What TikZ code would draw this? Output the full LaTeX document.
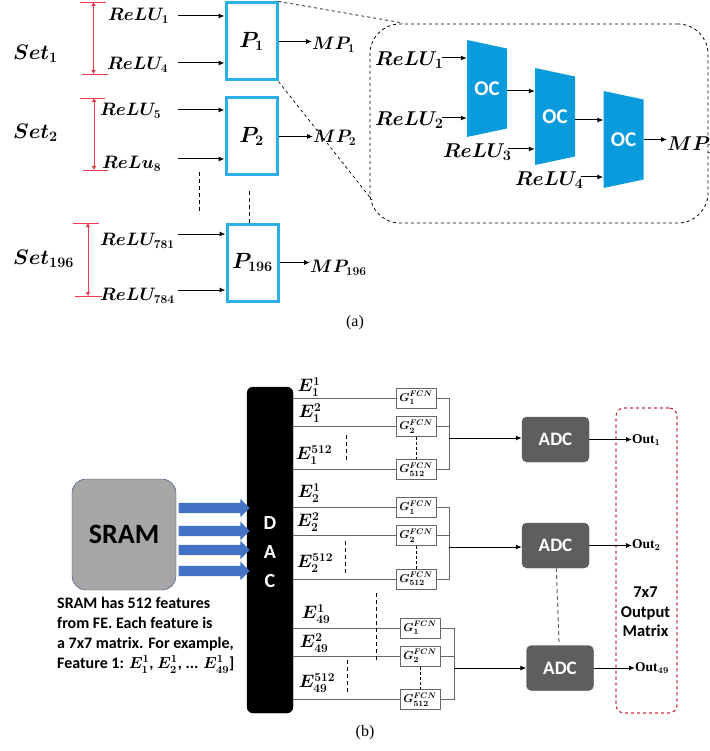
\documentclass[tikz,border=0pt]{standalone}
\usepackage{amsmath,amssymb}
\usepackage{fontspec}
\setmainfont{Liberation Serif}
\newfontfamily\calfont{Carlito}
\DeclareFontShape{OML}{cmm}{b}{it}{<->cmmib10}{}
\usetikzlibrary{arrows.meta,positioning,shapes.arrows}
\definecolor{pcyan}{HTML}{2AB0E6}
\definecolor{ocblue}{HTML}{0A9BDC}
\definecolor{blockblue}{HTML}{4472C4}
\definecolor{sramgray}{HTML}{A6A6A6}
\definecolor{adcgray}{HTML}{5F5D5D}
\definecolor{wiregray}{HTML}{666666}
\definecolor{setred}{HTML}{EE3A4C}
\begin{document}
\begin{tikzpicture}[
  x=1pt, y=-1pt,
  pbox/.style={rectangle, draw=pcyan, fill=white, line width=3pt, inner sep=0pt,
               minimum width=51pt, minimum height=77pt,
               font=\fontsize{22}{24}\selectfont\mathversion{bold}},
  ocbox/.style={rectangle, inner sep=0pt, minimum width=40pt, minimum height=97pt, text=white,
                font=\calfont\bfseries\fontsize{21}{24}\selectfont,
                path picture={\fill[ocblue] (path picture bounding box.north west)
                  -- ([yshift=-8.5pt]path picture bounding box.north east)
                  -- ([yshift=8.5pt]path picture bounding box.south east)
                  -- (path picture bounding box.south west) -- cycle;}},
  mlab/.style={inner sep=0pt, anchor=west, font=\fontsize{18}{20}\selectfont\mathversion{bold}},
  inlab/.style={inner sep=0pt, anchor=west, font=\fontsize{20}{22}\selectfont\mathversion{bold}},
  elab/.style={inner sep=0pt, font=\fontsize{18}{20}\selectfont\mathversion{bold}},
  setlab/.style={inner sep=0pt, anchor=west, font=\fontsize{21}{24}\selectfont\mathversion{bold}},
  gbox/.style={rectangle, draw=wiregray, fill=white, line width=1pt, inner sep=0pt,
               minimum width=40pt, minimum height=20pt,
               font=\fontsize{11.5}{13}\selectfont\mathversion{bold}},
  adc/.style={rectangle, draw=black!70, fill=adcgray, rounded corners=5pt, text=white,
              minimum width=67pt, minimum height=45pt, inner sep=0pt,
              font=\calfont\bfseries\fontsize{19}{22}\selectfont},
  dacl/.style={text=white, inner sep=0pt, font=\calfont\bfseries\fontsize{20}{22}\selectfont},
  outl/.style={inner sep=0pt, anchor=west, font=\bfseries\fontsize{13.5}{15}\selectfont\mathversion{bold}},
  arr/.style={draw, -{Latex[length=6pt,width=5pt]}, line width=1pt},
  wire/.style={draw=wiregray, line width=1pt},
  setarr/.style={draw=setred, {Latex[length=4pt,width=5pt]}-{Latex[length=4pt,width=5pt]}, line width=0.9pt},
  endcap/.style={draw=setred, line width=0.9pt},
  dotted line/.style={draw, line width=1pt, dash pattern=on 4pt off 3pt},
  bigarr/.style={draw=none, fill=blockblue, single arrow, single arrow head extend=4pt,
                 single arrow tip angle=90, inner xsep=0pt, inner ysep=5pt, minimum height=71pt, minimum width=18pt},
  cap text/.style={inner sep=0pt, font=\fontsize{16}{18}\selectfont}
]
\useasboundingbox (0,0) rectangle (709,751);
\node[pbox] (p1)   at (251.5,41.5)  {$P_1$};
\node[pbox] (p2)   at (251.5,136.5) {$P_2$};
\node[pbox] (p196) at (252.5,262.5) {$P_{196}$};
\node[setlab] (set1)   at (13,54)  {$Set_1$};
\node[setlab] (set2)   at (13,133) {$Set_2$};
\node[setlab] (set196) at (13,259) {$Set_{196}$};
\node[mlab] (r1)   at (108,16)  {$ReLU_1$};
\node[mlab] (r4)   at (107,65)  {$ReLU_4$};
\node[mlab] (r5)   at (100,111) {$ReLU_5$};
\node[mlab] (r8)   at (102,164) {$ReLu_8$};
\node[mlab] (r781) at (100,241) {$ReLU_{781}$};
\node[mlab] (r784) at (100,296) {$ReLU_{784}$};
\node[mlab] (mp1)   at (312,45)  {$MP_1$};
\node[mlab] (mp2)   at (313,138) {$MP_2$};
\node[mlab] (mp196) at (310,268) {$MP_{196}$};
\coordinate (a1)   at (178,16);
\coordinate (a4)   at (178,63);
\coordinate (a5)   at (178,110);
\coordinate (a8)   at (178,159);
\coordinate (a781) at (178,234);
\coordinate (a784) at (178,290);
\draw[arr] (a1)   -- (a1 -| p1.west);
\draw[arr] (a4)   -- (a4 -| p1.west);
\draw[arr] (a5)   -- (a5 -| p2.west);
\draw[arr] (a8)   -- (a8 -| p2.west);
\draw[arr] (a781) -- (a781 -| p196.west);
\draw[arr] (a784) -- (a784 -| p196.west);
\draw[arr] (p1.east)   -- (mp1.west |- p1.east);
\draw[arr] (p2.east)   -- (mp2.west |- p2.east);
\draw[arr] (p196.east) -- (mp196.west |- p196.east);
\coordinate (s1a) at (93.5,2);
\coordinate (s1b) at (93.5,74);
\coordinate (s2a) at (94,98);
\coordinate (s2b) at (94,170);
\coordinate (s3a) at (88,223);
\coordinate (s3b) at (88,296);
\draw[setarr] (s1a) -- (s1b);
\draw[setarr] (s2a) -- (s2b);
\draw[setarr] (s3a) -- (s3b);
\draw[endcap] ([xshift=-14pt]s1a) -- ([xshift=12pt]s1a);
\draw[endcap] ([xshift=-12pt]s1b) -- ([xshift=14pt]s1b);
\draw[endcap] ([xshift=-14pt]s2a) -- ([xshift=11pt]s2a);
\draw[endcap] ([xshift=-11pt]s2b) -- ([xshift=14pt]s2b);
\draw[endcap] ([xshift=-15pt]s3a) -- ([xshift=11pt]s3a);
\draw[endcap] ([xshift=-13pt]s3b) -- ([xshift=14pt]s3b);
\coordinate (d1a) at (199,172);
\coordinate (d1b) at (199,214);
\coordinate (d2a) at (249,191);
\draw[dotted line] (d1a) -- (d1b);
\draw[dotted line] (d2a) -- (d2a |- p196.north);
\node[draw, dashed, line width=0.8pt, rounded corners=30pt, minimum width=338pt, minimum height=199pt,
      inner sep=0pt] (zoomb) at (539,123.5) {};
\draw[dashed, line width=0.7pt] (p1.north east) -- (403,23);
\draw[dashed, line width=0.7pt] (p1.south east) -- (372,200);
\node[ocbox] (oc1) at (487,88.5)  {OC};
\node[ocbox] (oc2) at (555,116.5) {OC};
\node[ocbox] (oc3) at (623.5,139.5) {OC};
\node[inlab] (ir1) at (375,60)  {$ReLU_1$};
\node[inlab] (ir2) at (375,120) {$ReLU_2$};
\node[inlab] (ir3) at (443,152) {$ReLU_3$};
\node[inlab] (ir4) at (515,180) {$ReLU_4$};
\node[inlab] (imp) at (667,145) {$MP_1$};
\coordinate (b1) at (442,58);
\coordinate (b2) at (442,118);
\coordinate (b3) at (508,149);
\coordinate (b4) at (581,177);
\coordinate (b5) at (507,91);
\coordinate (b6) at (575,120);
\draw[arr] (b1) -- (b1 -| oc1.west);
\draw[arr] (b2) -- (b2 -| oc1.west);
\draw[arr] (b3) -- (b3 -| oc2.west);
\draw[arr] (b4) -- (b4 -| oc3.west);
\draw[arr] (b5) -- (b5 -| oc2.west);
\draw[arr] (b6) -- (b6 -| oc3.west);
\draw[arr] (oc3.east) -- (imp.west |- oc3.east);
\node[cap text] (capa) at (355,323) {(a)};
\node[draw=black, fill=black, rounded corners=6pt, minimum width=46pt, minimum height=326pt, inner sep=0pt] (dac) at (270,550) {};
\node[dacl] (dacd) at (270,523) {D};
\node[dacl] (daca) at (270,552) {A};
\node[dacl] (dacc) at (270,581) {C};
\node[draw=blockblue!60!black, fill=sramgray, rounded corners=14pt, minimum width=104pt, minimum height=111pt,
      inner sep=0pt, font=\calfont\bfseries\fontsize{28}{32}\selectfont] (sram) at (124,534.5) {SRAM};
\node[bigarr] (ba1) at (211.5,508) {};
\node[bigarr] (ba2) at (211.5,531) {};
\node[bigarr] (ba3) at (211.5,550) {};
\node[bigarr] (ba4) at (211.5,571) {};
\node[inner sep=0pt, anchor=north west, align=left, font=\calfont\bfseries\fontsize{16}{20}\selectfont\mathversion{bold}] (note) at (57,597)
  {SRAM has 512 features\\from FE. Each feature is\\a 7x7 matrix. For example,\\Feature 1: $E_1^1$, $E_2^1$, ... $E_{49}^1$]};
\node[gbox] (g11) at (416,398)   {$G_1^{FCN}$};
\node[gbox] (g12) at (416,426.5) {$G_2^{FCN}$};
\node[gbox] (g13) at (416,469.5) {$G_{512}^{FCN}$};
\node[gbox] (g21) at (416,507.5) {$G_1^{FCN}$};
\node[gbox] (g22) at (416,535.5) {$G_2^{FCN}$};
\node[gbox] (g23) at (416,579)   {$G_{512}^{FCN}$};
\node[gbox] (g31) at (420,628)   {$G_1^{FCN}$};
\node[gbox] (g32) at (420,656)   {$G_2^{FCN}$};
\node[gbox] (g33) at (420,699.5) {$G_{512}^{FCN}$};
\draw[wire] (dac.east |- g11) -- (g11);
\draw[wire] (dac.east |- g12) -- (g12);
\draw[wire] (dac.east |- g13) -- (g13);
\draw[wire] (dac.east |- g21) -- (g21);
\draw[wire] (dac.east |- g22) -- (g22);
\draw[wire] (dac.east |- g23) -- (g23);
\draw[wire] (dac.east |- g31) -- (g31);
\draw[wire] (dac.east |- g32) -- (g32);
\draw[wire] (dac.east |- g33) -- (g33);
\node[elab] (e11) at (309,387) {$E_1^1$};
\node[elab] (e12) at (310,413) {$E_1^2$};
\node[elab] (e13) at (314,455) {$E_1^{512}$};
\node[elab] (e21) at (309,493) {$E_2^1$};
\node[elab] (e22) at (308,522) {$E_2^2$};
\node[elab] (e23) at (315,563) {$E_2^{512}$};
\node[elab] (e31) at (316,614) {$E_{49}^1$};
\node[elab] (e32) at (314,643) {$E_{49}^2$};
\node[elab] (e33) at (317,683) {$E_{49}^{512}$};
\node[adc] (adc1) at (555.5,439.5) {ADC};
\node[adc] (adc2) at (555.5,545.5) {ADC};
\node[adc] (adc3) at (560,668)     {ADC};
\coordinate (bus1) at (449,438);
\coordinate (bus2) at (449,547);
\coordinate (bus3) at (454,668);
\draw[wire] (g11) -| (bus1);
\draw[wire] (g12) -- (g12 -| bus1);
\draw[wire] (g13) -| (bus1);
\draw[wire] (g21) -| (bus2);
\draw[wire] (g22) -- (g22 -| bus2);
\draw[wire] (g23) -| (bus2);
\draw[wire] (g31) -| (bus3);
\draw[wire] (g32) -- (g32 -| bus3);
\draw[wire] (g33) -| (bus3);
\draw[arr] (bus1) -- (bus1 -| adc1.west);
\draw[arr] (bus2) -- (bus2 -| adc2.west);
\draw[arr] (bus3) -- (bus3 -| adc3.west);
\draw[dotted line, line width=0.8pt, dash pattern=on 3pt off 2pt] (g12) -- (g13);
\draw[dotted line, line width=0.8pt, dash pattern=on 3pt off 2pt] (g22) -- (g23);
\draw[dotted line, line width=0.8pt, dash pattern=on 3pt off 2pt] (g32) -- (g33);
\coordinate (e1a) at (346,435);
\coordinate (e1b) at (346,461);
\coordinate (e2a) at (345.5,541);
\coordinate (e2b) at (345.5,574);
\coordinate (e3a) at (347,660);
\coordinate (e3b) at (347,694);
\coordinate (e4a) at (376,593);
\coordinate (e4b) at (376,660);
\draw[dotted line] (e1a) -- (e1b);
\draw[dotted line] (e2a) -- (e2b);
\draw[dotted line] (e3a) -- (e3b);
\draw[dotted line] (e4a) -- (e4b);
\draw[dotted line, draw=wiregray] (adc2) -- (adc3);
\node[draw=setred!85!black, dashed, line width=1.2pt, rounded corners=8pt, minimum width=61pt, minimum height=305pt,
      inner sep=0pt] (outbox) at (646.5,560.5) {};
\node[outl] (out1)  at (632,440) {Out$_1$};
\node[outl] (out2)  at (632,545) {Out$_2$};
\node[outl] (out49) at (635,668) {Out$_{49}$};
\draw[arr] (adc1.east) -- (out1.west |- adc1.east);
\draw[arr] (adc2.east) -- (out2.west |- adc2.east);
\draw[arr] (adc3.east) -- (out49.west |- adc3.east);
\node[inner sep=0pt, align=center, font=\calfont\bfseries\fontsize{16.5}{19.5}\selectfont] (outt) at (645.5,612) {7x7\\Output\\Matrix};
\node[cap text] (capb) at (365,733) {(b)};
\end{tikzpicture}
\end{document}
